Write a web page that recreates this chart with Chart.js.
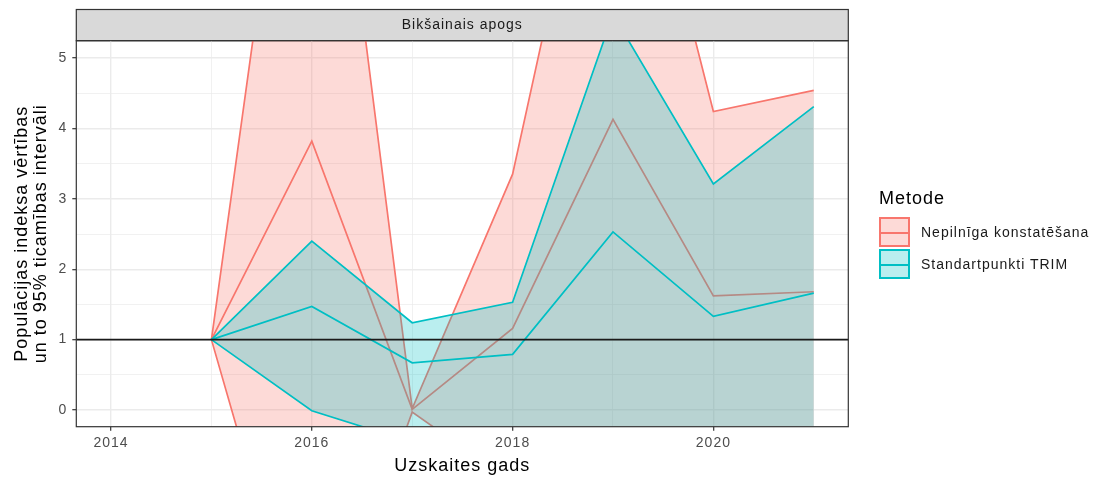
<!DOCTYPE html>
<html>
<head>
<meta charset="utf-8">
<script src="https://cdn.jsdelivr.net/npm/chart.js@4/dist/chart.umd.min.js"></script>
<style>
  body { margin: 0; background: #fff; }
  #wrap { position: relative; width: 1097px; height: 480px; font-family: "Liberation Sans", Arial, sans-serif; }
  #canvas { position: absolute; left: 0; top: 0; }
  .lg-title { position: absolute; left: 879px; top: 188px; font-size: 18px; line-height: 20px; letter-spacing: 1px; color: #000; }
  .lg-key { position: absolute; left: 879px; width: 31px; height: 30px; box-sizing: border-box; }
  .lg-key div { position: absolute; left: 0; right: 0; top: 13px; height: 1.7px; }
  .lg-text { position: absolute; left: 921px; font-size: 14px; line-height: 16px; letter-spacing: 1px; color: #1a1a1a; white-space: nowrap; }
</style>
</head>
<body>
<div id="wrap">
  <canvas id="canvas" width="1097" height="480"></canvas>
  <div class="lg-title">Metode</div>
  <div class="lg-key" style="top:217px;border:2px solid #F8766D;background:rgba(248,118,109,0.27)"><div style="background:#F8766D"></div></div>
  <div class="lg-text" style="top:224px">Nepilnīga konstatēšana</div>
  <div class="lg-key" style="top:249px;border:2px solid #00BFC4;background:rgba(0,191,196,0.27)"><div style="background:#00BFC4"></div></div>
  <div class="lg-text" style="top:256px">Standartpunkti TRIM</div>
</div>
<script>
'use strict';

var years = [2015, 2016, 2017, 2018, 2019, 2020, 2021];

// Nepilnīga konstatēšana
var nepIndex = [1, 3.82, 0.01, 1.16, 4.13, 1.62, 1.68];
var nepUpper = [1, 11.3, 0.02, 3.35, 9.85, 4.24, 4.54];
var nepLower = [1, -3.95, -0.03, -1.03, -1.6, -1.0, -1.18];

// Standartpunkti TRIM
var trimIndex = [1, 1.47, 0.67, 0.79, 2.53, 1.33, 1.66];
var trimUpper = [1, 2.40, 1.24, 1.53, 5.62, 3.21, 4.31];
var trimLower = [1, -0.01, -0.46, -0.6, -0.9, -0.7, -0.8];

var referenceLine = 1;
var stripTop = 9.5;

var red = '#F8766D';
var teal = '#00BFC4';

function points(values) {
	var out = [];
	for (var i = 0; i < years.length; i++) {
		out.push({ x: years[i], y: values[i] });
	}
	return out;
}

function line(values, color, order, fill, bg) {
	return {
		data: points(values),
		borderColor: color,
		borderWidth: 1.7,
		backgroundColor: bg || 'transparent',
		fill: fill,
		order: order,
		pointRadius: 0,
		tension: 0,
		clip: 0
	};
}

var ggFrame = {
	id: 'ggFrame',
	beforeDraw: function(chart) {
		var ctx = chart.ctx, a = chart.chartArea;
		ctx.letterSpacing = '1px';
		ctx.save();
		ctx.fillStyle = '#D9D9D9';
		ctx.fillRect(a.left, stripTop, a.right - a.left, a.top - stripTop);
		ctx.strokeStyle = '#333333';
		ctx.lineWidth = 1.2;
		ctx.strokeRect(a.left, stripTop, a.right - a.left, a.top - stripTop);
		ctx.restore();
	},
	afterDatasetsDraw: function(chart) {
		var ctx = chart.ctx, a = chart.chartArea;
		var y = chart.scales.y.getPixelForValue(referenceLine);
		ctx.save();
		ctx.strokeStyle = '#1a1a1a';
		ctx.lineWidth = 1.6;
		ctx.beginPath();
		ctx.moveTo(a.left, y);
		ctx.lineTo(a.right, y);
		ctx.stroke();
		ctx.strokeStyle = '#333333';
		ctx.lineWidth = 1.2;
		ctx.strokeRect(a.left, a.top, a.right - a.left, a.bottom - a.top);
		ctx.restore();
	}
};

Chart.defaults.font.family = '"Liberation Sans", Arial, sans-serif';

var config = {
	type: 'line',
	data: {
		datasets: [
			line(trimIndex, teal, 0, false),
			line(trimUpper, teal, 1, 2, 'rgba(0,191,196,0.27)'),
			line(trimLower, teal, 2, false),
			line(nepIndex, red, 3, false),
			line(nepUpper, red, 4, 5, 'rgba(248,118,109,0.27)'),
			line(nepLower, red, 5, false)
		]
	},
	options: {
		responsive: false,
		animation: false,
		layout: { padding: { top: stripTop, right: 248.7, bottom: 0, left: 0 } },
		plugins: {
			legend: { display: false },
			tooltip: { enabled: false },
			title: {
				display: true,
				text: 'Bikšainais apogs',
				fullSize: false,
				color: '#1A1A1A',
				font: { size: 14, weight: 'normal', lineHeight: 1.0 },
				padding: { top: 8.6, bottom: 8.6 }
			}
		},
		scales: {
			x: {
				type: 'linear',
				min: 2013.654,
				max: 2021.344,
				afterFit: function(s) { s.height = 53.3; },
				border: { display: false },
				grid: {
					color: '#EBEBEB',
					lineWidth: function(c) { return c.tick && c.tick.value % 2 === 0 ? 1.4 : 0.7; },
					tickColor: function(c) { return c.tick && c.tick.value % 2 === 0 ? '#333333' : 'rgba(0,0,0,0)'; },
					tickLength: 4,
					tickWidth: 1.2
				},
				ticks: {
					stepSize: 1,
					includeBounds: false,
					autoSkip: false,
					maxRotation: 0,
					padding: 4,
					color: '#4D4D4D',
					font: { size: 14 },
					callback: function(v) { return v % 2 === 0 ? String(v) : ''; }
				},
				title: {
					display: true,
					text: 'Uzskaites gads',
					color: '#000',
					font: { size: 18, lineHeight: 1.02 },
					padding: { top: 0, bottom: 4.9 }
				}
			},
			y: {
				min: -0.237,
				max: 5.246,
				afterFit: function(s) { s.width = 76.3; },
				border: { display: false },
				grid: {
					color: '#EBEBEB',
					lineWidth: function(c) { return c.tick && Number.isInteger(c.tick.value) ? 1.4 : 0.7; },
					tickColor: function(c) { return c.tick && Number.isInteger(c.tick.value) ? '#333333' : 'rgba(0,0,0,0)'; },
					tickLength: 4,
					tickWidth: 1.2
				},
				ticks: {
					stepSize: 0.5,
					includeBounds: false,
					autoSkip: false,
					padding: 5,
					color: '#4D4D4D',
					font: { size: 14 },
					callback: function(v) { return Number.isInteger(v) ? String(v) : ''; }
				},
				title: {
					display: true,
					text: ['Populācijas indeksa vērtības', 'un to 95% ticamības intervāli'],
					color: '#000',
					font: { size: 18, lineHeight: 1.02 },
					padding: { top: 13.3, bottom: 0 }
				}
			}
		}
	},
	plugins: [ggFrame]
};

var ctx = document.getElementById('canvas').getContext('2d');
window.mychart = new Chart(ctx, config);
</script>
</body>
</html>
